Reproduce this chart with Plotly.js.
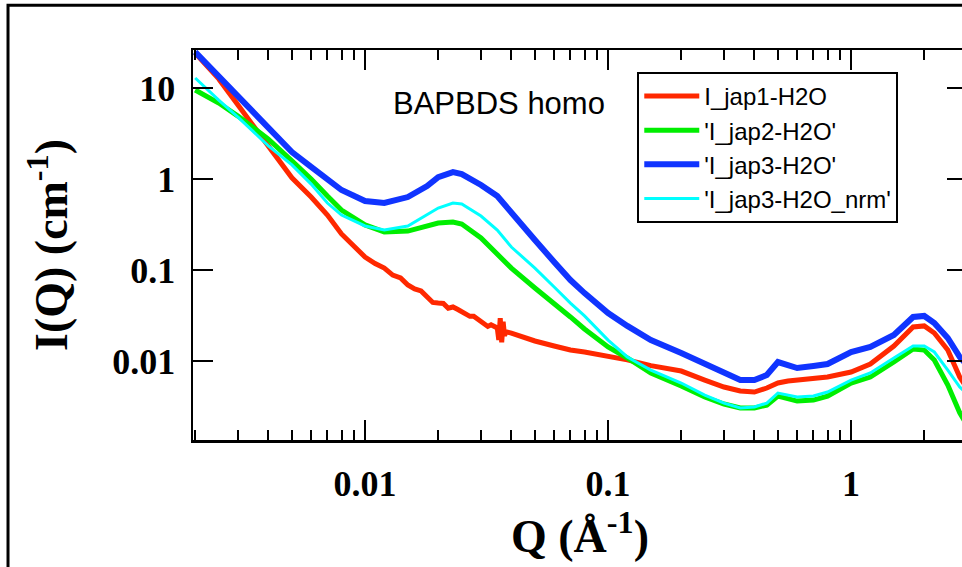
<!DOCTYPE html>
<html><head><meta charset="utf-8">
<script src="https://cdn.plot.ly/plotly-3.0.1.min.js"></script>
<style>html,body{margin:0;padding:0;overflow:hidden;background:#fff;width:962px;height:567px}#chart{width:1000px;height:567px}</style>
</head><body><div id="chart"></div><script>
// Q values (Å^-1)
const q = [0.002,0.0025,0.003,0.004,0.005,0.006,0.007,0.008,0.01,0.012,0.015,0.018,0.02,0.023,0.025,0.03,0.035,0.04,0.05,0.06,0.07,0.08,0.1,0.12,0.15,0.2,0.25,0.3,0.35,0.4,0.45,0.5,0.55,0.6,0.7,0.8,1.0,1.2,1.5,1.8,2.0,2.2,2.5,2.8,3.0];
const iJap2 = [9.5,6.84,4.92,2.75,1.58,1.0,0.65,0.456,0.313,0.262,0.268,0.305,0.328,0.337,0.320,0.225,0.146,0.105,0.0634,0.0433,0.0305,0.0225,0.01426,0.0108,0.00738,0.00531,0.00402,0.00337,0.00305,0.00305,0.00328,0.00412,0.00392,0.00363,0.00372,0.00412,0.00573,0.00667,0.00975,0.01355,0.0132,0.01025,0.00544,0.00269,0.00198];
const iJap3 = [24.9,13.5,8.2,3.63,1.98,1.36,0.975,0.757,0.573,0.545,0.634,0.837,1.05,1.19,1.13,0.86,0.65,0.423,0.214,0.1225,0.0776,0.0558,0.0337,0.0243,0.0170,0.01225,0.00927,0.00738,0.00618,0.00618,0.00702,0.00975,0.00904,0.00838,0.00881,0.00927,0.01256,0.01426,0.0193,0.0305,0.0313,0.0262,0.0179,0.01107,0.0090];
const iJap3nrm = [12.9,7.38,4.80,2.31,1.43,0.88,0.545,0.402,0.305,0.275,0.305,0.412,0.48,0.545,0.531,0.392,0.275,0.179,0.105,0.065,0.0433,0.0313,0.0170,0.01107,0.00796,0.00573,0.00423,0.00345,0.00305,0.00313,0.00345,0.00445,0.00423,0.00402,0.00412,0.00456,0.00618,0.00738,0.0108,0.01462,0.01462,0.01256,0.00796,0.00518,0.00434];
// I_jap1 has a noisier low-Q region, so its own Q list
const qJap1 = [0.002,0.0025,0.003,0.004,0.005,0.006,0.007,0.008,0.01,0.011,0.012,0.013,0.014,0.015,0.016,0.017,0.018,0.019,0.02,0.021,0.022,0.023,0.024,0.025,0.027,0.028,0.03,0.032,0.033,0.035,0.0355,0.036,0.0365,0.037,0.0375,0.038,0.04,0.05,0.06,0.07,0.08,0.1,0.12,0.15,0.2,0.25,0.3,0.35,0.4,0.45,0.5,0.55,0.6,0.7,0.8,1.0,1.2,1.5,1.8,2.0,2.2,2.5,2.8,3.0];
const iJap1 = [24.2,12.6,6.5,2.25,1.03,0.634,0.402,0.249,0.139,0.118,0.105,0.088,0.082,0.0684,0.062,0.059,0.0518,0.044,0.0433,0.043,0.038,0.0392,0.037,0.0345,0.031,0.031,0.0275,0.024,0.025,0.0231,0.017,0.0295,0.016,0.027,0.019,0.021,0.0203,0.0166,0.01462,0.0132,0.01256,0.01135,0.0103,0.0089,0.00776,0.00618,0.00518,0.00468,0.00456,0.00505,0.00573,0.00603,0.00618,0.00634,0.00667,0.00757,0.00927,0.01462,0.0237,0.0243,0.0203,0.0132,0.00667,0.00505];
const names = ["I_jap1-H2O","'I_jap2-H2O'","'I_jap3-H2O'","'I_jap3-H2O_nrm'"];
const xMajor = [0.01,0.1,1];
const xMajorText = ['0.01','0.1','1'];
const xMinor = [0.002,0.003,0.004,0.005,0.006,0.007,0.008,0.009,0.02,0.03,0.04,0.05,0.06,0.07,0.08,0.09,0.2,0.3,0.4,0.5,0.6,0.7,0.8,0.9,2,3];
const xSub = [0.012,0.014,0.016,0.018,0.12,0.14,0.16,0.18,1.2,1.4,1.6,1.8];
const yMajor = [0.01,0.1,1,10];
const yMajorText = ['0.01','0.1','1','10'];

const TC = '#000';
const serif = {family:'Liberation Serif, Times New Roman, serif', color:'#000', weight:'bold'};
const traces = [
  {x:qJap1, y:iJap1, name:names[0], mode:'lines', line:{color:'#ff2800', width:5}},
  {x:q, y:iJap2, name:names[1], mode:'lines', line:{color:'#00ee00', width:5}},
  {x:q, y:iJap3, name:names[2], mode:'lines', line:{color:'#1034ff', width:6}},
  {x:q, y:iJap3nrm, name:names[3], mode:'lines', line:{color:'#00ffff', width:3}}
];
const xr = [-2.708, 0.477];
const yr = [-2.868, 1.418];
const layout = {
  width:1000, height:567,
  margin:{l:193, r:33, t:50, b:127, pad:0},
  paper_bgcolor:'#fff', plot_bgcolor:'#fff',
  showlegend:true,
  xaxis:{type:'log', range:xr, tickmode:'array', tickvals:xMajor, ticktext:xMajorText,
    ticks:'inside', ticklen:20, tickwidth:2, tickcolor:TC, showline:true, linewidth:2.5, linecolor:'#000',
    mirror:'ticks', showgrid:false, zeroline:false, automargin:false, ticklabelstandoff:10,
    minor:{tickmode:'array', tickvals:xMinor, ticks:'inside', ticklen:10, tickwidth:2, tickcolor:TC, showgrid:false},
    tickfont:Object.assign({size:36}, serif),
    title:{text:'Q (Å<sup>-1</sup>)', font:Object.assign({size:46}, serif), standoff:12}},
  xaxis2:{type:'log', range:xr, anchor:'y2', side:'bottom', tickmode:'array', tickvals:xSub,
    ticks:'inside', ticklen:4, tickwidth:2, tickcolor:TC, showticklabels:false, showline:false, mirror:'ticks',
    showgrid:false, zeroline:false, domain:[0,1]},
  yaxis2:{type:'log', range:yr, anchor:'x2', domain:[0,1], showticklabels:false, showline:false, ticks:'',
    showgrid:false, zeroline:false},
  yaxis:{type:'log', range:yr, tickmode:'array', tickvals:yMajor, ticktext:yMajorText,
    ticks:'inside', ticklen:20, tickwidth:2, tickcolor:TC, showline:true, linewidth:2.5, linecolor:'#000',
    mirror:'ticks', showgrid:false, zeroline:false, automargin:false, ticklabelstandoff:8,
    tickfont:Object.assign({size:36}, serif),
    title:{text:'I(Q) (cm<sup>-1</sup>)', font:Object.assign({size:46}, serif), standoff:30}},
  legend:{x:0.574, y:0.944, xanchor:'left', yanchor:'top', bgcolor:'#fff', bordercolor:'#000', borderwidth:2,
    itemwidth:55, font:{family:'Liberation Sans, Arial, sans-serif', size:24, color:'#000'}},
  annotations:[{text:'BAPBDS homo', xref:'paper', yref:'paper', x:0.395, y:0.864, xanchor:'center', yanchor:'middle',
    showarrow:false, font:{family:'Liberation Sans, Arial, sans-serif', size:31, color:'#000'}}],
  shapes:[{type:'rect', xref:'paper', yref:'paper', x0:-0.239, x1:1.3, y0:-0.6, y1:1.115, layer:'below',
    line:{color:'#000', width:3}, fillcolor:'rgba(0,0,0,0)'}]
};
Plotly.newPlot('chart', traces, layout, {displayModeBar:false, staticPlot:true});
</script></body></html>
